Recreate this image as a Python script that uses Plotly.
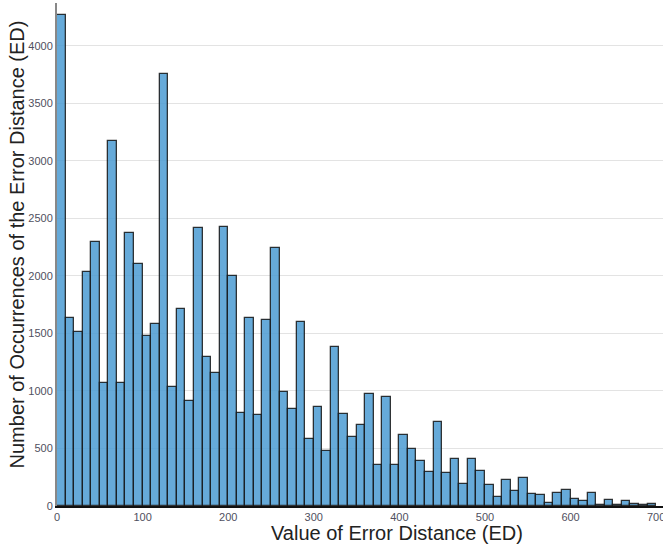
import plotly.graph_objects as go

bin_width = 10
bin_starts = list(range(0, 700, 10))
counts = [4270, 1630, 1515, 2035, 2290, 1070, 3170, 1070, 2370, 2100,
          1475, 1585, 3750, 1030, 1710, 910, 2420, 1295, 1160, 2425,
          1995, 810, 1630, 790, 1620, 2245, 990, 840, 1600, 585,
          860, 480, 1380, 800, 600, 700, 970, 360, 945, 360,
          615, 495, 395, 295, 730, 285, 410, 195, 405, 300,
          180, 75, 225, 130, 245, 105, 95, 30, 110, 135,
          60, 40, 110, 5, 50, 5, 42, 20, 5, 20]
x_ticks = [0, 100, 200, 300, 400, 500, 600, 700]
y_ticks = [0, 500, 1000, 1500, 2000, 2500, 3000, 3500, 4000]
x_title = "Value of Error Distance (ED)"
y_title = "Number of Occurrences of the Error Distance (ED)"

fig = go.Figure(go.Bar(
    x=bin_starts, y=counts, width=bin_width, offset=0,
    marker=dict(color="rgba(75,155,210,0.85)",
                line=dict(color="rgba(20,20,20,0.85)", width=1.3)),
))

fig.update_layout(
    width=663, height=546,
    margin=dict(l=57, r=0, t=3, b=40, autoexpand=False),
    paper_bgcolor="white", plot_bgcolor="white",
    font=dict(family="Liberation Sans, Arial", color="#222"),
    showlegend=False, bargap=0,
    annotations=[
        dict(text=x_title, xref="x domain", yref="y domain", x=0.561, y=-0.054,
             xanchor="center", yanchor="middle", showarrow=False,
             font=dict(size=20, color="#222")),
        dict(text=y_title, xref="x domain", yref="y domain", x=-0.066, y=0.52,
             xanchor="center", yanchor="middle", showarrow=False, textangle=-90,
             font=dict(size=20, color="#222")),
    ],
)
fig.update_xaxes(
    range=[0, 708], tickvals=x_ticks, ticks="", showgrid=False, automargin=False,
    showline=True, linecolor="#111", linewidth=1.5,
    tickfont=dict(size=11, color="#505060"), ticklabeloverflow="allow",
    zeroline=False,
)
fig.update_yaxes(
    range=[0, 4371], tickvals=y_ticks, ticks="", showgrid=True, automargin=False,
    gridcolor="#e3e3e3", gridwidth=1,
    showline=True, linecolor="#888", linewidth=2,
    tickfont=dict(size=11, color="#505060"),
    zeroline=False,
)

fig.write_html("out.html", config={"displayModeBar": False},
               post_script="document.body.style.margin='0';")
